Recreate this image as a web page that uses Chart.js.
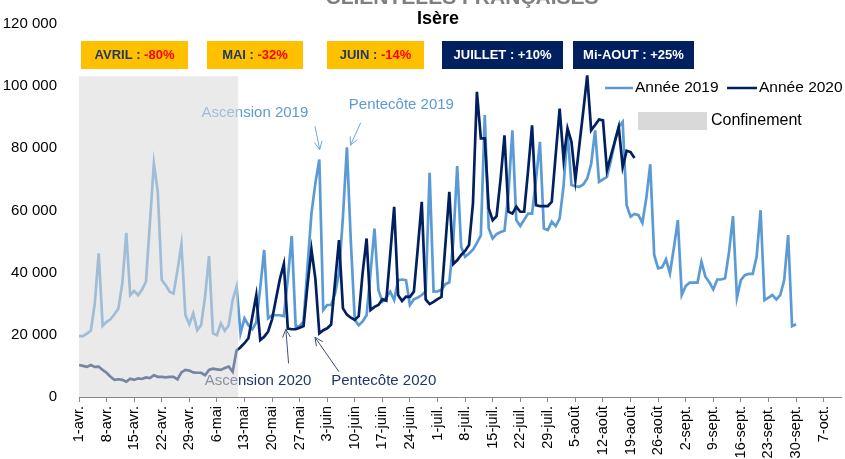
<!DOCTYPE html>
<html>
<head>
<meta charset="utf-8">
<script src="https://cdn.jsdelivr.net/npm/chart.js@4.4.1/dist/chart.umd.min.js"></script>
<style>
html,body{margin:0;padding:0;background:#fff}
#wrap{width:845px;height:459px;position:relative}
</style>
</head>
<body>
<div id="wrap"><canvas id="chartCanvas"></canvas></div>
<script>
// daily values from 1 April (index 0)
let annee2019=[19600,19600,20400,21300,30000,46200,22900,24200,25000,26600,
28500,36600,52800,32800,34100,32800,34600,37100,56000,75100,
66000,37600,36000,33900,33300,40800,49200,26400,23400,26900,
21500,23100,32300,45300,20500,19900,23700,21300,23100,31200,
35500,20500,25300,23100,21800,24000,35000,47300,25300,26300,
26300,26300,26000,38000,51800,22600,22800,24300,41900,59000,
68800,76400,28000,29600,29600,33300,39800,58000,80300,50000,
24800,23100,24300,26300,40000,54200,34400,30700,32000,33900,
31200,37600,37800,37600,29600,31400,32000,32800,34000,72100,
33900,34000,34500,36300,36900,50000,74300,48300,45100,46200,
47400,49600,52000,90700,54200,51000,52400,53100,53500,65500,
85800,56900,55000,57000,59000,59000,70000,82100,54200,53700,
56400,55000,57400,68000,85300,68200,67800,67600,68400,70300,
75000,85800,69200,70000,70800,76000,82000,86900,88500,61700,
58000,58900,58500,56000,64000,74900,45700,41400,41700,44300,
39800,48000,56900,32800,35700,36800,36800,36800,43500,38700,
36900,34600,37800,37800,38200,46700,58200,32000,37600,39200,
39600,39600,45100,60100,31200,32000,32800,31400,32800,37600,
52100,22800,23400]

let annee2020=[10300,10000,9700,10300,9700,9800,8700,7800,6500,5500,
5700,5500,4900,5900,5500,6000,5800,6300,6100,7000,
6500,6500,6300,6500,6500,5700,7900,8700,8500,7900,
7800,7800,7000,8700,9100,8900,8700,9300,9800,8100,
15000,16000,17300,18900,25800,32800,18300,19400,21000,25000,
31500,38000,42800,22000,21800,21800,22300,22800,36000,47500,
38000,20500,21500,22100,23300,37000,50500,28500,26500,25500,
24800,26000,40000,51000,28000,29000,29600,31400,31000,46000,
61200,32800,30900,32300,32200,33900,48000,62800,31400,29900,
30600,31500,32200,49000,66000,42800,44000,45700,47000,48900,
62300,98200,83200,83200,60700,56900,58200,70000,84200,59600,
59000,61200,59600,59600,73000,87400,61700,61400,61400,61400,
62800,78000,92800,76400,86400,82100,69800,81000,92000,103500,
85800,87500,89300,89000,73000,77600,82200,86900,74000,79200,
78800,76900]

// one label every 7 days
let tickLabels=["1-avr.","8-avr.","15-avr.","22-avr.","29-avr.","6-mai","13-mai","20-mai","27-mai",
"3-juin","10-juin","17-juin","24-juin","1-juil.","8-juil.","15-juil.","22-juil.","29-juil.",
"5-août","12-août","19-août","26-août","2-sept.","9-sept.","16-sept.","23-sept.","30-sept.","7-oct."]

let seriesNames=["Année 2019","Année 2020"]
let confinement=[0,40.4]   // days
let confinementTop=103200

let monthNames=["AVRIL :","MAI :","JUIN :","JUILLET :","Mi-AOUT :"]
let monthChanges=["-80%","-32%","-14%","+10%","+25%"]

// text, anchor [day,value], arrow from [day,value] to [day,value]
let notes=[
    {text:"Ascension 2019",at:[31.1,91300],from:[59.9,87100],to:[61.1,79600],year:2019},
    {text:"Pentecôte 2019",at:[68.5,93900],from:[71.5,88200],to:[68.9,81000],year:2019},
    {text:"Ascension 2020",at:[31.9,5100],from:[53.2,10800],to:[52.5,21800],year:2020},
    {text:"Pentecôte 2020",at:[64.0,5100],from:[66.0,8100],to:[59.9,19200],year:2020}
]

let fam="'Liberation Sans', Arial, sans-serif"
Chart.defaults.font.family=fam

let toPoints=arr=>arr.map((v,i)=>({x:i,y:v}))
let fmt=v=>String(v).replace(/\B(?=(\d{3})+(?!\d))/g," ")

let arrow=(ctx,x0,y0,x1,y1,color)=>{
    let a=Math.atan2(y1-y0,x1-x0)
    ctx.strokeStyle=color
    ctx.lineWidth=1
    ctx.beginPath()
    ctx.moveTo(x0,y0)
    ctx.lineTo(x1,y1)
    ctx.moveTo(x1-9*Math.cos(a-0.45),y1-9*Math.sin(a-0.45))
    ctx.lineTo(x1,y1)
    ctx.lineTo(x1-9*Math.cos(a+0.45),y1-9*Math.sin(a+0.45))
    ctx.stroke()
}

let decor={
    id:"decor",
    afterDatasetsDraw(chart){
        let {ctx,scales:{x,y}}=chart
        ctx.save()
        ctx.textBaseline="middle"
        ctx.font="15px "+fam
        notes.forEach(n=>{
            ctx.fillStyle=n.year===2019?"#5b9bd5":"#1f3864"
            ctx.fillText(n.text,x.getPixelForValue(n.at[0]),y.getPixelForValue(n.at[1]))
            arrow(ctx,x.getPixelForValue(n.from[0]),y.getPixelForValue(n.from[1]),
                x.getPixelForValue(n.to[0]),y.getPixelForValue(n.to[1]),
                n.year===2019?"#6fa8dc":"#3f5078")
        })
        // grey confinement band lies over the lines
        let x0=x.getPixelForValue(confinement[0]),x1=x.getPixelForValue(confinement[1])
        let yt=y.getPixelForValue(confinementTop)
        ctx.fillStyle="rgba(217,217,217,0.55)"
        ctx.fillRect(x0,yt,x1-x0,y.bottom-yt)
        ctx.restore()
    },
    afterDraw(chart){
        let ctx=chart.ctx
        ctx.save()
        // titles (the first one is cut by the top edge)
        ctx.textAlign="center"
        ctx.textBaseline="alphabetic"
        ctx.fillStyle="#7f7f7f"
        ctx.font="bold 21px "+fam
        ctx.fillText("CLIENTÈLES FRANÇAISES",462,4)
        ctx.fillStyle="#000"
        ctx.font="bold 18px "+fam
        ctx.fillText("Isère",438,24)

        // month boxes
        let boxes=[[81,188],[207,303],[327,424],[442,563],[573,694]]
        ctx.textAlign="left"
        ctx.textBaseline="middle"
        ctx.font="bold 13px "+fam
        monthNames.forEach((m,i)=>{
            let dark=i>2
            let [bx0,bx1]=boxes[i]
            ctx.fillStyle=dark?"#002060":"#ffc000"
            ctx.fillRect(bx0,41,bx1-bx0,28)
            let w1=ctx.measureText(m+" ").width
            let w=w1+ctx.measureText(monthChanges[i]).width
            let sx=(bx0+bx1)/2-w/2
            ctx.fillStyle=dark?"#fff":"#1f3864"
            ctx.fillText(m+" ",sx,55.5)
            ctx.fillStyle=dark?"#fff":"#ff0000"
            ctx.fillText(monthChanges[i],sx+w1,55.5)
        })

        // legend
        ctx.lineWidth=2.5
        ctx.strokeStyle="#5b9bd5"
        ctx.beginPath();ctx.moveTo(605,88);ctx.lineTo(633,88);ctx.stroke()
        ctx.strokeStyle="#002060"
        ctx.beginPath();ctx.moveTo(727,88);ctx.lineTo(757,88);ctx.stroke()
        ctx.fillStyle="#000"
        ctx.font="15.5px "+fam
        ctx.fillText(seriesNames[0],635,88)
        ctx.fillText(seriesNames[1],759,88)
        ctx.fillStyle="#d9d9d9"
        ctx.fillRect(638,112,69,18)
        ctx.fillStyle="#000"
        ctx.font="16px "+fam
        ctx.fillText("Confinement",711,121)
        ctx.restore()
    }
}

let chartCanvas=document.querySelector("#chartCanvas")
let chart=new Chart(chartCanvas,{
    type:"line",
    data:{
        datasets:[
            {label:seriesNames[0],data:toPoints(annee2019),borderColor:"#5b9bd5",borderWidth:2.7,pointRadius:0,tension:0,order:2},
            {label:seriesNames[1],data:toPoints(annee2020),borderColor:"#002060",borderWidth:2.7,pointRadius:0,tension:0,order:1}
        ]
    },
    options:{
        responsive:true,
        maintainAspectRatio:false,
        animation:false,
        devicePixelRatio:1,
        layout:{padding:{top:24,left:0,right:0,bottom:0}},
        plugins:{legend:{display:false},tooltip:{enabled:false}},
        scales:{
            x:{
                type:"linear",
                min:0,
                max:193.6,
                afterBuildTicks:s=>{s.ticks=tickLabels.map((l,i)=>({value:i*7}))},
                afterFit:s=>{s.height=62},
                ticks:{
                    autoSkip:false,maxRotation:90,minRotation:90,padding:4,
                    color:"#000",font:{size:14.5},
                    callback:v=>tickLabels[Math.round(v/7)]
                },
                grid:{drawOnChartArea:false,drawTicks:true,tickLength:5,color:"#868686"},
                border:{display:true,color:"#868686",width:1}
            },
            y:{
                min:0,
                max:120000,
                afterFit:s=>{s.width=79},
                ticks:{stepSize:20000,padding:14,color:"#000",font:{size:15},callback:v=>fmt(v)},
                grid:{display:false},
                border:{display:false}
            }
        }
    },
    plugins:[decor]
})
</script>
</body>
</html>
